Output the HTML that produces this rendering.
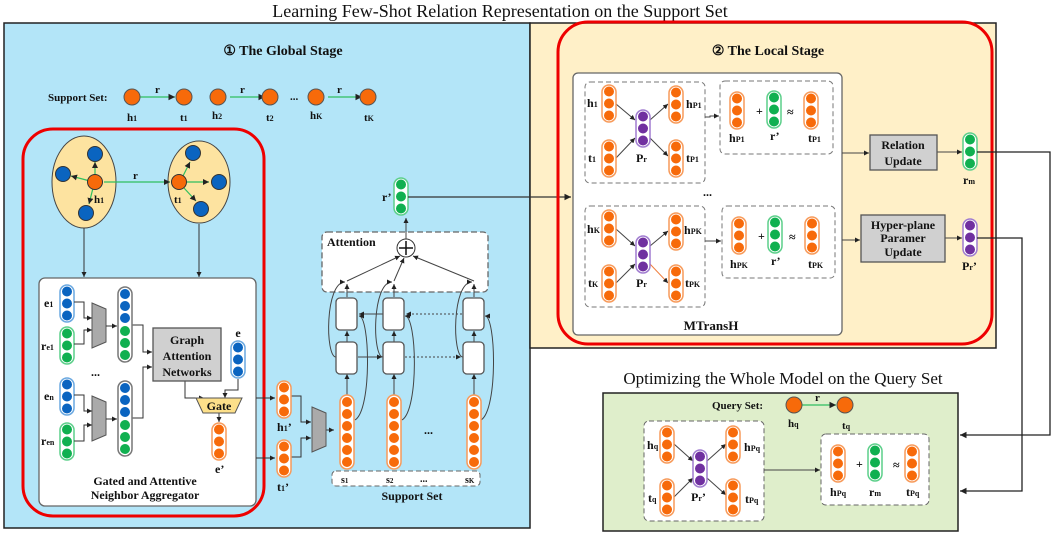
<!DOCTYPE html>
<html><head><meta charset="utf-8"><style>
html,body{margin:0;padding:0;background:#fff}
svg{display:block}
text{font-family:"Liberation Serif",serif;font-weight:bold;fill:#111}
</style></head><body>
<svg width="1056" height="534" viewBox="0 0 1056 534" xmlns="http://www.w3.org/2000/svg">
<defs>
<marker id="a" markerWidth="6" markerHeight="6" refX="5" refY="3" orient="auto"><path d="M0,0.5 L5,3 L0,5.5z" fill="#222"/></marker>
<g id="o3"><rect x="-7" y="0" width="14" height="37" rx="7" fill="#fff" stroke="#f79a5a" stroke-width="1.5"/><circle cx="0" cy="6.5" r="5" fill="#f76a0a"/><circle cx="0" cy="18.5" r="5" fill="#f76a0a"/><circle cx="0" cy="30.5" r="5" fill="#f76a0a"/></g>
<g id="g3"><rect x="-7" y="0" width="14" height="37" rx="7" fill="#fff" stroke="#5ccf8a" stroke-width="1.5"/><circle cx="0" cy="6.5" r="5" fill="#10b050"/><circle cx="0" cy="18.5" r="5" fill="#10b050"/><circle cx="0" cy="30.5" r="5" fill="#10b050"/></g>
<g id="b3"><rect x="-7" y="0" width="14" height="37" rx="7" fill="#fff" stroke="#6aa8e0" stroke-width="1.5"/><circle cx="0" cy="6.5" r="5" fill="#0a64c0"/><circle cx="0" cy="18.5" r="5" fill="#0a64c0"/><circle cx="0" cy="30.5" r="5" fill="#0a64c0"/></g>
<g id="p3"><rect x="-7" y="0" width="14" height="37" rx="7" fill="#fff" stroke="#a07cd0" stroke-width="1.5"/><circle cx="0" cy="6.5" r="5" fill="#7030a0"/><circle cx="0" cy="18.5" r="5" fill="#7030a0"/><circle cx="0" cy="30.5" r="5" fill="#7030a0"/></g>
<g id="bg6"><rect x="-7" y="0" width="14" height="75" rx="7" fill="#fff" stroke="#777" stroke-width="1.5"/><circle cx="0" cy="7" r="5" fill="#0a64c0"/><circle cx="0" cy="19" r="5" fill="#0a64c0"/><circle cx="0" cy="31" r="5" fill="#0a64c0"/><circle cx="0" cy="44" r="5" fill="#10b050"/><circle cx="0" cy="56" r="5" fill="#10b050"/><circle cx="0" cy="68" r="5" fill="#10b050"/></g>
<g id="o6"><rect x="-7" y="0" width="14" height="74" rx="7" fill="#fff" stroke="#f79a5a" stroke-width="1.5"/><circle cx="0" cy="7" r="5" fill="#f76a0a"/><circle cx="0" cy="19" r="5" fill="#f76a0a"/><circle cx="0" cy="31" r="5" fill="#f76a0a"/><circle cx="0" cy="43" r="5" fill="#f76a0a"/><circle cx="0" cy="55" r="5" fill="#f76a0a"/><circle cx="0" cy="67" r="5" fill="#f76a0a"/></g>
<path id="tz" d="M0,0 L14,6 L14,39 L0,45z" fill="#aaa" stroke="#555"/>
<rect id="lb" x="0" y="0" width="21" height="32" rx="4" fill="#fff" stroke="#555" stroke-width="1.3"/>
</defs>

<text x="500" y="17" font-size="18" text-anchor="middle" font-weight="normal" style="font-weight:normal">Learning Few-Shot Relation Representation on the Support Set</text>

<!-- panels -->
<rect x="4" y="23" width="526" height="505" fill="#b3e5f8" stroke="#222" stroke-width="1.5"/>
<rect x="530" y="23" width="466" height="325" fill="#fff0c8" stroke="#222" stroke-width="1.5"/>
<rect x="530" y="23" width="0" height="0"/>
<text x="283" y="55" font-size="14" text-anchor="middle">① The Global Stage</text>

<!-- support set row -->
<text x="48" y="101" font-size="11">Support Set:</text>
<g stroke="#2fbf5f" stroke-width="1.3" marker-end="url(#a)"><line x1="140" y1="97" x2="175" y2="97"/><line x1="230" y1="97" x2="265" y2="97"/><line x1="328" y1="97" x2="362" y2="97"/></g>
<g fill="#f76a0a" stroke="#555"><circle cx="132" cy="97" r="8"/><circle cx="184" cy="97" r="8"/><circle cx="218" cy="97" r="8"/><circle cx="270" cy="97" r="8"/><circle cx="316" cy="97" r="8"/><circle cx="368" cy="97" r="8"/></g>
<g font-size="11"><text x="155" y="93">r</text><text x="240" y="93">r</text><text x="337" y="93">r</text>
<text x="127" y="121">h<tspan font-size="8">1</tspan></text><text x="180" y="121">t<tspan font-size="8">1</tspan></text><text x="212" y="119">h<tspan font-size="8">2</tspan></text><text x="266" y="121">t<tspan font-size="8">2</tspan></text><text x="310" y="119">h<tspan font-size="8">K</tspan></text><text x="364" y="121">t<tspan font-size="8">K</tspan></text><text x="290" y="100">...</text></g>

<!-- red global -->
<rect x="23" y="129" width="241" height="387" rx="30" fill="none" stroke="#e00" stroke-width="3"/>
<ellipse cx="84" cy="182" rx="32" ry="46" fill="#fde3a0" stroke="#444"/>
<ellipse cx="199" cy="182" rx="31" ry="41" fill="#fde3a0" stroke="#444"/>
<g stroke="#2fbf5f" stroke-width="1.2" marker-end="url(#a)"><line x1="95" y1="177" x2="95" y2="162"/><line x1="90" y1="181" x2="71" y2="176"/><line x1="93" y1="188" x2="89" y2="204"/><line x1="104" y1="182" x2="170" y2="182"/><line x1="183" y1="176" x2="190" y2="162"/><line x1="187" y1="182" x2="209" y2="182"/><line x1="184" y1="188" x2="196" y2="201"/></g>
<g fill="#0a64c0" stroke="#333"><circle cx="95" cy="154" r="7.5"/><circle cx="63" cy="174" r="7.5"/><circle cx="86" cy="213" r="7.5"/><circle cx="193" cy="153" r="7.5"/><circle cx="219" cy="182" r="7.5"/><circle cx="201" cy="209" r="7.5"/></g>
<g fill="#f76a0a" stroke="#333"><circle cx="95" cy="182" r="7.5"/><circle cx="179" cy="182" r="7.5"/></g>
<text x="133" y="179" font-size="11">r</text><text x="94" y="203" font-size="11">h<tspan font-size="8">1</tspan></text><text x="174" y="203" font-size="11">t<tspan font-size="8">1</tspan></text>
<g stroke="#333" marker-end="url(#a)"><line x1="84" y1="228" x2="84" y2="277"/><line x1="199" y1="224" x2="199" y2="277"/></g>

<!-- aggregator -->
<rect x="39" y="278" width="217" height="228" rx="6" fill="#fff" stroke="#666" stroke-width="1.3"/>
<use href="#b3" x="67" y="285"/><use href="#g3" x="67" y="327"/><use href="#b3" x="67" y="378"/><use href="#g3" x="67" y="423"/>
<g font-size="12"><text x="44" y="307">e<tspan font-size="8">1</tspan></text><text x="41" y="350">r<tspan font-size="8">e1</tspan></text><text x="44" y="400">e<tspan font-size="8">n</tspan></text><text x="41" y="445">r<tspan font-size="8">en</tspan></text><text x="91" y="376">...</text></g>
<use href="#tz" x="92" y="303"/><use href="#tz" x="92" y="396"/>
<g stroke="#333" fill="none" marker-end="url(#a)"><path d="M74,302 H84 V318 H92"/><path d="M74,344 H84 V330 H92"/><path d="M74,395 H84 V411 H92"/><path d="M74,441 H84 V425 H92"/><path d="M106,326 H117"/><path d="M106,419 H117"/><path d="M132,325 H143 V352 H152"/><path d="M132,418 H143 V367 H152"/><path d="M185,381 V398 H204"/><path d="M238,379 V390 H225 V398"/><path d="M219,413 V422"/></g>
<use href="#bg6" x="125" y="287"/><use href="#bg6" x="125" y="381"/>
<rect x="153" y="328" width="68" height="53" fill="#d0d0d0" stroke="#555" stroke-width="1.3"/>
<g font-size="12" text-anchor="middle"><text x="187" y="344">Graph</text><text x="187" y="360">Attention</text><text x="187" y="376">Networks</text></g>
<text x="238" y="337" font-size="12" text-anchor="middle">e</text>
<use href="#b3" x="238" y="341"/>
<path d="M196,398 H242 L235,413 H203z" fill="#fde08a" stroke="#555"/>
<text x="219" y="410" font-size="12" text-anchor="middle">Gate</text>
<use href="#o3" x="219" y="423"/>
<text x="215" y="473" font-size="12">e’</text>
<g font-size="12" text-anchor="middle"><text x="145" y="485">Gated and Attentive</text><text x="145" y="499">Neighbor Aggregator</text></g>

<!-- h1' t1' -->
<g stroke="#333" fill="none" marker-end="url(#a)"><path d="M256,398 H275"/><path d="M256,458 H275"/><path d="M291,396 H301 V422 H311"/><path d="M291,457 H301 V438 H311"/><path d="M326,430 H334"/></g>
<use href="#o3" x="284" y="381"/><use href="#o3" x="284" y="440"/>
<text x="277" y="431" font-size="12">h<tspan font-size="8">1</tspan>’</text><text x="277" y="491" font-size="12">t<tspan font-size="8">1</tspan>’</text>
<use href="#tz" x="312" y="407"/>

<!-- attention / lstm -->
<rect x="322" y="232" width="166" height="60" rx="5" fill="#fff" stroke="#666" stroke-width="1.3" stroke-dasharray="6,3"/>
<text x="327" y="246" font-size="12">Attention</text>
<g stroke="#444" fill="none" stroke-width="1" marker-end="url(#a)">
<line x1="347" y1="297" x2="347" y2="284"/><line x1="394" y1="297" x2="394" y2="284"/><line x1="474" y1="297" x2="474" y2="284"/>
<line x1="347" y1="281" x2="400" y2="256"/><line x1="394" y1="281" x2="404" y2="258"/><line x1="474" y1="281" x2="413" y2="256"/>
<line x1="406" y1="239" x2="406" y2="218"/>
<line x1="347" y1="342" x2="347" y2="331"/><line x1="394" y1="342" x2="394" y2="331"/><line x1="474" y1="342" x2="474" y2="331"/>
<line x1="347" y1="395" x2="347" y2="374"/><line x1="394" y1="395" x2="394" y2="374"/><line x1="474" y1="395" x2="474" y2="374"/>
<line x1="383" y1="314" x2="359" y2="314"/><line x1="358" y1="357" x2="382" y2="357"/>
<path d="M336,357 C325,357 325,282 345,282"/><path d="M383,357 C372,357 372,282 392,282"/><path d="M463,357 C452,357 452,282 472,282"/>
<path d="M355,420 C372,410 370,316 359,316"/><path d="M402,420 C419,410 417,316 405,316"/><path d="M481,420 C498,410 496,316 485,316"/>
</g>
<g stroke="#444" stroke-dasharray="2,2" marker-end="url(#a)"><line x1="462" y1="314" x2="406" y2="314"/><line x1="405" y1="357" x2="461" y2="357"/></g>
<use href="#lb" x="336" y="298"/><use href="#lb" x="383" y="298"/><use href="#lb" x="463" y="298"/>
<use href="#lb" x="336" y="342"/><use href="#lb" x="383" y="342"/><use href="#lb" x="463" y="342"/>
<circle cx="406" cy="248" r="9" fill="#fff" stroke="#333"/><path d="M399,248 H413 M406,241 V255" stroke="#111" stroke-width="1.5"/>
<use href="#o6" x="347" y="395"/><use href="#o6" x="394" y="395"/><use href="#o6" x="474" y="395"/>
<text x="424" y="434" font-size="12">...</text>
<rect x="332" y="471" width="148" height="15" rx="4" fill="#fff" stroke="#666" stroke-dasharray="5,3"/>
<g font-size="10"><text x="341" y="483">s<tspan font-size="7">1</tspan></text><text x="386" y="483">s<tspan font-size="7">2</tspan></text><text x="420" y="482">...</text><text x="465" y="483">s<tspan font-size="7">K</tspan></text></g>
<text x="412" y="500" font-size="12" text-anchor="middle">Support Set</text>
<use href="#g3" x="401" y="178"/>
<text x="382" y="201" font-size="12">r’</text>
<line x1="408" y1="197" x2="571" y2="197" stroke="#333" stroke-width="1.3" marker-end="url(#a)"/>

<!-- local stage -->
<rect x="558" y="22" width="434" height="322" rx="30" fill="none" stroke="#e00" stroke-width="3"/>
<text x="768" y="55" font-size="14" text-anchor="middle">② The Local Stage</text>
<rect x="573" y="73" width="269" height="262" rx="5" fill="#fff" stroke="#666" stroke-width="1.3"/>
<text x="711" y="330" font-size="13" text-anchor="middle">MTransH</text>
<text x="703" y="196" font-size="12">...</text>
<!-- box1 -->
<rect x="585" y="82" width="120" height="101" rx="5" fill="none" stroke="#777" stroke-dasharray="5,3"/>
<rect x="585" y="206" width="120" height="101" rx="5" fill="none" stroke="#777" stroke-dasharray="5,3"/>
<rect x="720" y="81" width="113" height="73" rx="5" fill="none" stroke="#777" stroke-dasharray="5,3"/>
<rect x="722" y="206" width="113" height="72" rx="5" fill="none" stroke="#777" stroke-dasharray="5,3"/>
<g stroke="#444" marker-end="url(#a)"><line x1="616" y1="104" x2="635" y2="120"/><line x1="616" y1="158" x2="635" y2="138"/><line x1="650" y1="120" x2="668" y2="104"/><line x1="650" y1="138" x2="668" y2="156"/>
<line x1="616" y1="229" x2="635" y2="246"/><line x1="616" y1="283" x2="635" y2="264"/><line x1="650" y1="246" x2="668" y2="231"/><line x1="650" y1="264" x2="668" y2="283" stroke="#f08040"/></g>
<use href="#o3" x="609" y="85"/><use href="#o3" x="609" y="140"/><use href="#p3" x="643" y="110"/><use href="#o3" x="676" y="86"/><use href="#o3" x="676" y="140"/>
<use href="#o3" x="609" y="210"/><use href="#o3" x="609" y="265"/><use href="#p3" x="643" y="236"/><use href="#o3" x="676" y="213"/><use href="#o3" x="676" y="265"/>
<g font-size="12"><text x="587" y="107">h<tspan font-size="8">1</tspan></text><text x="588" y="162">t<tspan font-size="8">1</tspan></text><text x="636" y="162">P<tspan font-size="8">r</tspan></text><text x="686" y="108">h<tspan font-size="8">P1</tspan></text><text x="686" y="162">t<tspan font-size="8">P1</tspan></text>
<text x="587" y="233">h<tspan font-size="8">K</tspan></text><text x="588" y="287">t<tspan font-size="8">K</tspan></text><text x="636" y="287">P<tspan font-size="8">r</tspan></text><text x="684" y="234">h<tspan font-size="8">PK</tspan></text><text x="685" y="287">t<tspan font-size="8">PK</tspan></text></g>
<g stroke="#444" fill="none" marker-end="url(#a)"><path d="M705,117 H710 V116 H719"/><path d="M705,241 H712 V241 H721"/><line x1="842" y1="153" x2="869" y2="153"/><line x1="842" y1="240" x2="860" y2="240"/><line x1="937" y1="152" x2="962" y2="152"/><line x1="945" y1="238" x2="962" y2="238"/></g>
<use href="#o3" x="737" y="92"/><use href="#g3" x="774" y="91"/><use href="#o3" x="811" y="92"/>
<use href="#o3" x="739" y="217"/><use href="#g3" x="775" y="216"/><use href="#o3" x="812" y="217"/>
<g font-size="12"><text x="756" y="115">+</text><text x="787" y="116">≈</text><text x="729" y="142">h<tspan font-size="8">P1</tspan></text><text x="770" y="140">r’</text><text x="808" y="142">t<tspan font-size="8">P1</tspan></text>
<text x="758" y="240">+</text><text x="789" y="241">≈</text><text x="730" y="268">h<tspan font-size="8">PK</tspan></text><text x="771" y="265">r’</text><text x="808" y="268">t<tspan font-size="8">PK</tspan></text></g>
<rect x="870" y="135" width="67" height="35" fill="#d0d0d0" stroke="#555" stroke-width="1.3"/>
<g font-size="12" text-anchor="middle"><text x="903" y="149">Relation</text><text x="903" y="165">Update</text></g>
<rect x="861" y="215" width="84" height="47" fill="#d0d0d0" stroke="#555" stroke-width="1.3"/>
<g font-size="12" text-anchor="middle"><text x="903" y="229">Hyper-plane</text><text x="903" y="242">Paramer</text><text x="903" y="256">Update</text></g>
<use href="#g3" x="970" y="133"/><use href="#p3" x="970" y="219"/>
<text x="963" y="184" font-size="12">r<tspan font-size="8">m</tspan></text><text x="962" y="270" font-size="12">P<tspan font-size="8">r</tspan>’</text>

<!-- right feedback lines -->
<g stroke="#222" stroke-width="1.3" fill="none" marker-end="url(#a)"><path d="M977,152 H1050 V435 H960"/><path d="M977,238 H1022 V491 H960"/></g>

<!-- query -->
<text x="783" y="384" font-size="17" text-anchor="middle" style="font-weight:normal">Optimizing the Whole Model on the Query Set</text>
<rect x="603" y="393" width="355" height="138" fill="#dfeecb" stroke="#222" stroke-width="1.5"/>
<text x="712" y="409" font-size="11">Query Set:</text>
<line x1="802" y1="405" x2="836" y2="405" stroke="#2fbf5f" stroke-width="1.3" marker-end="url(#a)"/>
<circle cx="794" cy="405" r="8" fill="#f76a0a" stroke="#555"/><circle cx="845" cy="405" r="8" fill="#f76a0a" stroke="#555"/>
<text x="815" y="401" font-size="11">r</text><text x="788" y="427" font-size="11">h<tspan font-size="8">q</tspan></text><text x="842" y="429" font-size="11">t<tspan font-size="8">q</tspan></text>
<rect x="644" y="421" width="120" height="100" rx="5" fill="#fff" stroke="#666" stroke-dasharray="5,3"/>
<rect x="821" y="434" width="108" height="71" rx="5" fill="#fff" stroke="#666" stroke-dasharray="5,3"/>
<g stroke="#444" marker-end="url(#a)"><line x1="674" y1="444" x2="693" y2="461"/><line x1="674" y1="497" x2="693" y2="478"/><line x1="707" y1="461" x2="726" y2="444"/><line x1="707" y1="478" x2="726" y2="495"/><line x1="764" y1="470" x2="820" y2="470"/></g>
<use href="#o3" x="667" y="426"/><use href="#o3" x="667" y="479"/><use href="#p3" x="700" y="450"/><use href="#o3" x="733" y="426"/><use href="#o3" x="733" y="479"/>
<g font-size="12"><text x="647" y="449">h<tspan font-size="8">q</tspan></text><text x="648" y="502">t<tspan font-size="8">q</tspan></text><text x="691" y="501">P<tspan font-size="8">r</tspan>’</text><text x="744" y="451">h<tspan font-size="8">Pq</tspan></text><text x="745" y="503">t<tspan font-size="8">Pq</tspan></text></g>
<use href="#o3" x="838" y="445"/><use href="#g3" x="875" y="444"/><use href="#o3" x="912" y="445"/>
<g font-size="12"><text x="856" y="468">+</text><text x="893" y="469">≈</text><text x="830" y="496">h<tspan font-size="8">Pq</tspan></text><text x="869" y="496">r<tspan font-size="8">m</tspan></text><text x="906" y="496">t<tspan font-size="8">Pq</tspan></text></g>
</svg>
</body></html>
